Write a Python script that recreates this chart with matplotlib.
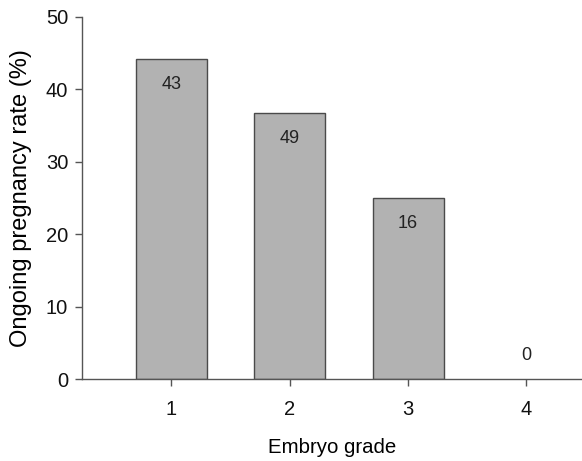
import matplotlib.pyplot as plt

grades = [1, 2, 3, 4]
rates = [44.2, 36.7, 25.0, 0.0]
counts = [43, 49, 16, 0]

plt.rcParams['font.family'] = ['Liberation Sans', 'DejaVu Sans']

fig = plt.figure(figsize=(5.82, 4.61), dpi=100)
ax = fig.add_axes([82 / 582, 1 - 379 / 461, 1 - 82 / 582, (379 - 17) / 461])

edges = ['#4a4a4a' if r > 0 else 'none' for r in rates]
ax.bar(grades, rates, width=0.6, color='#b2b2b2', edgecolor=edges, linewidth=1.0)

for g, r, n in zip(grades, rates, counts):
    y = r - 3.5 if r > 0 else 3.3
    ax.text(g, y, str(n), ha='center', va='center', fontsize=13, color='#222222')

ax.set_xlim(0.245, 4.47)
ax.set_ylim(0, 50)
ax.set_xticks(grades)
ax.set_yticks([0, 10, 20, 30, 40, 50])
ax.tick_params(direction='out', length=5, width=1, colors='#555555', labelsize=14.5,
               labelcolor='#111111', pad=5)
ax.tick_params(axis='x', pad=10)

for s in ['top', 'right']:
    ax.spines[s].set_visible(False)
for s in ['left', 'bottom']:
    ax.spines[s].set_color('#555555')
    ax.spines[s].set_linewidth(1)

ax.set_xlabel('Embryo grade', fontsize=14.7, labelpad=14)
ax.set_ylabel('Ongoing pregnancy rate (%)', fontsize=17, labelpad=10)

fig.savefig('out.png', dpi=100)
